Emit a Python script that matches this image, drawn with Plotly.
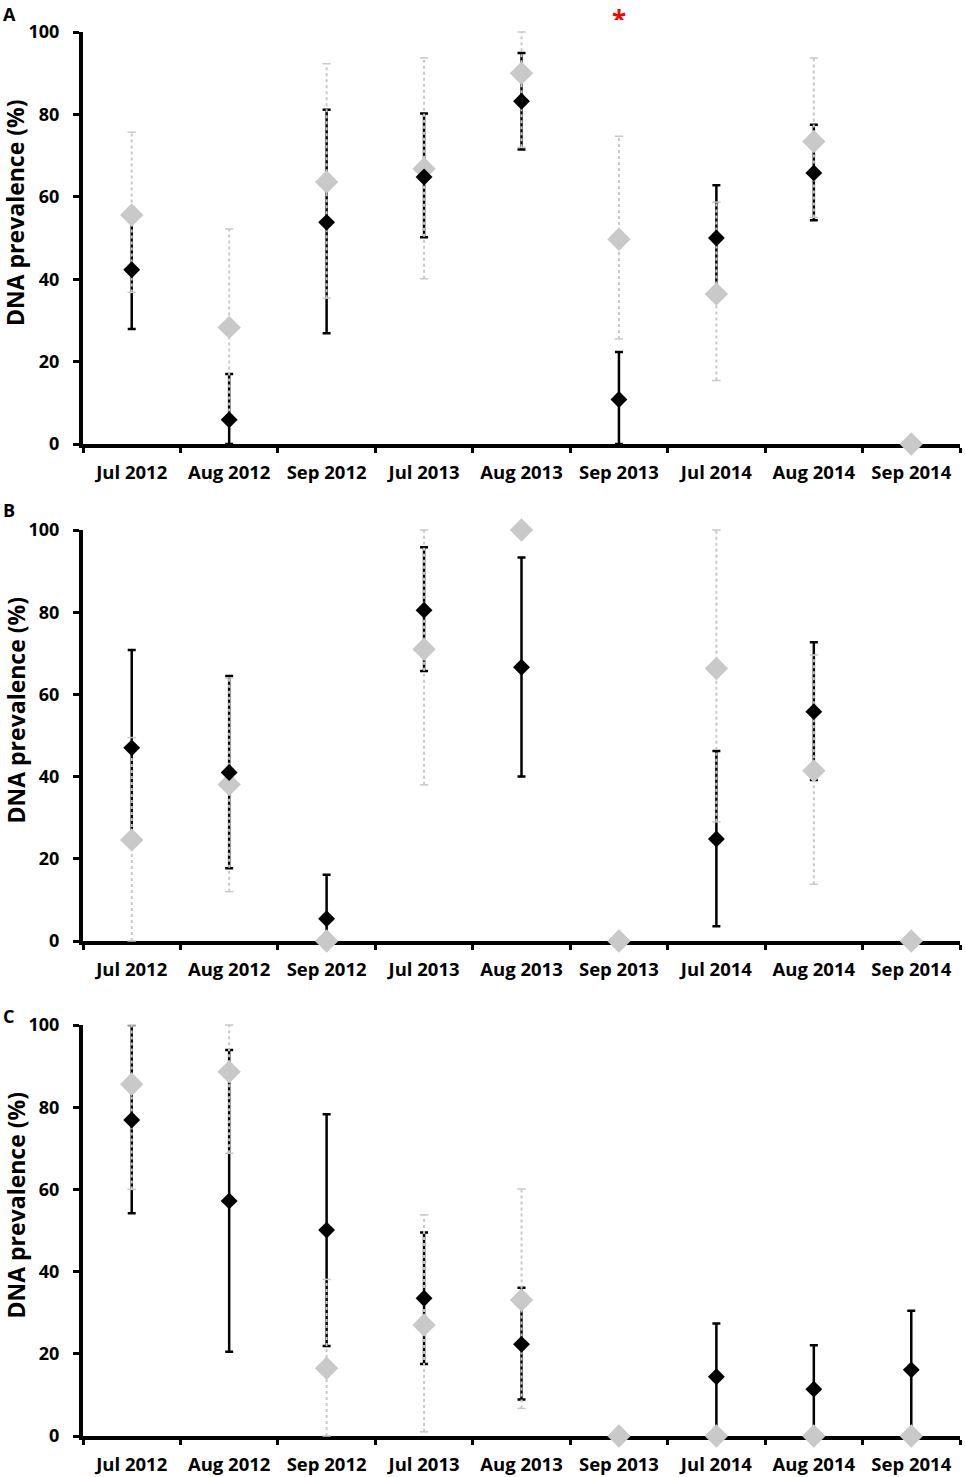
import plotly.graph_objects as go
from plotly.subplots import make_subplots

# sampling months
months = ["Jul 2012", "Aug 2012", "Sep 2012", "Jul 2013", "Aug 2013",
          "Sep 2013", "Jul 2014", "Aug 2014", "Sep 2014"]

# panel A - black series (value, lower CI, upper CI) and grey series
a_black = [42.3, 5.9, 53.8, 64.8, 83.2, 10.8, 50.0, 65.8, None]
a_black_lo = [27.9, 0, 26.9, 50.2, 71.5, 0, 37, 54.3, None]
a_black_hi = [55, 17.0, 81.1, 80.2, 94.9, 22.3, 62.8, 77.5, None]
a_grey = [55.6, 28.3, 63.6, 66.8, 90.0, 49.7, 36.4, 73.4, 0]
a_grey_lo = [36.8, 5, 35.4, 40.1, 72, 25.5, 15.4, 55, None]
a_grey_hi = [75.7, 52.2, 92.3, 93.7, 100, 74.7, 58.7, 93.7, None]

# panel B
b_black = [47.0, 41.0, 5.4, 80.5, 66.6, None, 24.8, 55.8, None]
b_black_lo = [24, 17.7, 0, 65.7, 40.0, None, 3.6, 39.2, None]
b_black_hi = [70.8, 64.5, 16.1, 95.8, 93.3, None, 46.2, 72.7, None]
b_grey = [24.6, 38.1, 0, 71.0, 100, 0, 66.3, 41.4, 0]
b_grey_lo = [0, 12.0, None, 38.0, None, None, 29.0, 13.8, None]
b_grey_hi = [49.5, 64, None, 100, None, None, 100, 69.6, None]

# panel C
c_black = [76.9, 57.2, 50.1, 33.5, 22.3, None, 14.4, 11.4, 16.1]
c_black_lo = [54.2, 20.5, 21.9, 17.5, 8.9, None, 0, 0, 0]
c_black_hi = [100, 93.9, 78.3, 49.5, 36.1, None, 27.4, 22.1, 30.5]
c_grey = [85.6, 88.6, 16.5, 27.0, 33.1, 0, 0, 0, 0]
c_grey_lo = [60.0, 68.8, 0, 1, 6.7, None, None, None, None]
c_grey_hi = [100, 100, 38.1, 53.8, 60.1, None, None, None, None]

y_ticks = [0, 20, 40, 60, 80, 100]

W, H = 965, 1477
GREY = "#c9c9c9"
FONT = "Open Sans"

panels = [
    ("A", a_black, a_black_lo, a_black_hi, a_grey, a_grey_lo, a_grey_hi),
    ("B", b_black, b_black_lo, b_black_hi, b_grey, b_grey_lo, b_grey_hi),
    ("C", c_black, c_black_lo, c_black_hi, c_grey, c_grey_lo, c_grey_hi),
]
# pixel top / bottom of each plot area, and top of panel letter
plot_px = [(32, 444), (530, 941), (1025, 1436)]
letter_px = [0, 496, 1002]

fig = make_subplots(rows=3, cols=1)

for i, (letter, bk, bk_lo, bk_hi, gr, gr_lo, gr_hi) in enumerate(panels):
    row = i + 1
    err_plus = [None if v is None else h - v for v, h in zip(bk, bk_hi)]
    err_minus = [None if v is None else v - l for v, l in zip(bk, bk_lo)]

    # black error bars (solid)
    fig.add_trace(go.Scatter(
        x=months, y=bk, mode="markers", marker=dict(opacity=0, size=2),
        error_y=dict(type="data", symmetric=False, array=err_plus,
                     arrayminus=err_minus, color="black", thickness=2.5, width=4),
        cliponaxis=False, showlegend=False, hoverinfo="skip"), row=row, col=1)

    # grey error bars (dotted) drawn on top
    gx, gy, cx, cy = [], [], [], []
    for m, lo, hi in zip(months, gr_lo, gr_hi):
        if lo is None:
            continue
        gx += [m, m, None]
        gy += [lo, hi, None]
        cx += [m, m]
        cy += [lo, hi]
    fig.add_trace(go.Scatter(
        x=gx, y=gy, mode="lines", line=dict(color=GREY, width=2, dash="dot"),
        cliponaxis=False, showlegend=False, hoverinfo="skip"), row=row, col=1)
    fig.add_trace(go.Scatter(
        x=cx, y=cy, mode="markers",
        marker=dict(symbol="line-ew", size=6, line=dict(color=GREY, width=1.5)),
        cliponaxis=False, showlegend=False, hoverinfo="skip"), row=row, col=1)

    # grey diamonds
    fig.add_trace(go.Scatter(
        x=months, y=gr, mode="markers",
        marker=dict(symbol="diamond", size=18, color=GREY),
        cliponaxis=False, showlegend=False), row=row, col=1)
    # black diamonds
    fig.add_trace(go.Scatter(
        x=months, y=bk, mode="markers",
        marker=dict(symbol="diamond", size=13, color="black"),
        cliponaxis=False, showlegend=False), row=row, col=1)

    top, bottom = plot_px[i]
    fig.update_xaxes(
        row=row, col=1, domain=[83 / W, 960 / W], type="category",
        range=[-0.5, 8.5], showline=True, linecolor="black", linewidth=4,
        ticks="outside", tickson="boundaries", ticklen=5, tickwidth=3,
        tickcolor="black", showgrid=False, zeroline=False, automargin=False,
        tickfont=dict(family=FONT, size=18.5, color="black", weight="bold"),
        ticklabelstandoff=9, layer="below traces")
    fig.update_yaxes(
        row=row, col=1, domain=[1 - bottom / H, 1 - top / H], range=[0, 100],
        tickvals=y_ticks, showline=True, linecolor="black", linewidth=4,
        ticks="outside", ticklen=6, tickwidth=3, tickcolor="black",
        showgrid=False, zeroline=False, automargin=False,
        tickfont=dict(family=FONT, size=18, color="black", weight="bold"),
        ticklabelstandoff=10, layer="below traces")

    fig.add_annotation(
        text="DNA prevalence (%)", textangle=-90, xref="paper", yref="paper",
        x=15 / W, y=1 - (top + bottom - 50) / 2 / H, showarrow=False,
        xanchor="center", yanchor="middle",
        font=dict(family=FONT, size=23, color="black", weight="bold"))
    fig.add_annotation(
        text=letter, xref="paper", yref="paper", x=1 / W, y=1 - letter_px[i] / H,
        showarrow=False, xanchor="left", yanchor="top",
        font=dict(family=FONT, size=18, color="black", weight="bold"))

# significance marker
fig.add_annotation(text="*", xref="x", yref="paper", x="Sep 2013",
                   y=1, showarrow=False, yanchor="top", height=18, valign="top",
                   font=dict(family=FONT, size=26, color="red", weight="bold"))

fig.update_layout(width=W, height=H, margin=dict(l=0, r=0, t=0, b=0),
                  plot_bgcolor="white", paper_bgcolor="white",
                  template="none", showlegend=False)

fig.write_html("out.html", config={"displayModeBar": False},
               post_script="document.body.style.margin = '0px';")
